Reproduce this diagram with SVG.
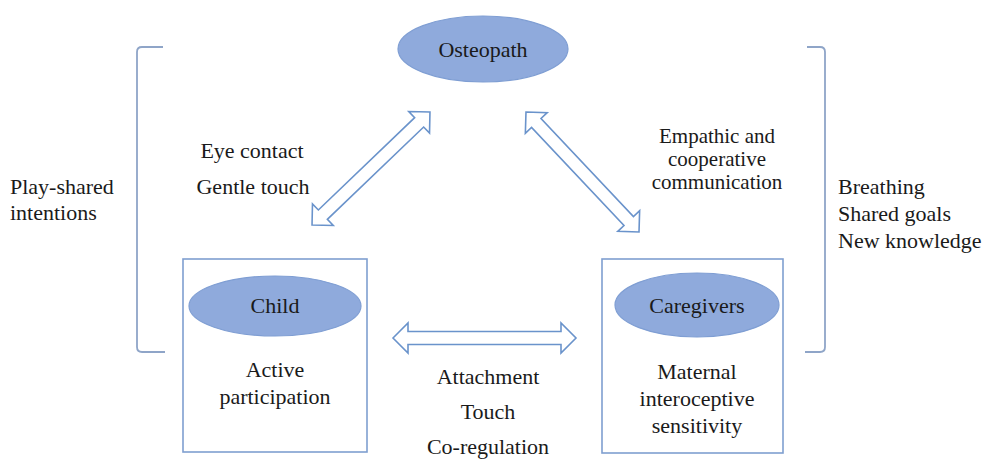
<svg xmlns="http://www.w3.org/2000/svg" width="985" height="461" viewBox="0 0 985 461">
<style>
text{font-size:22px;fill:#1a1a1a}
.c{text-anchor:middle}
.sm{font-size:21px}
.ell{fill:#8FAADC;stroke:#7F9ED3;stroke-width:1.2}
.box{fill:none;stroke:#7F9FD0;stroke-width:1.6}
.arr{fill:#fff;stroke:#6A93CB;stroke-width:1.6;stroke-linejoin:miter}
.br{fill:none;stroke:#8FA5C8;stroke-width:1.8}
</style>
<rect width="985" height="461" fill="#fff"/>
<g id="brackets">
<path class="br" d="M163,47 L142,47 Q137,47 137,52 L137,347 Q137,352 142,352 L165,352"/>
<path class="br" d="M807,47 L820,47 Q825,47 825,52 L825,347 Q825,352 820,352 L805,352"/>
</g>
<g id="connectors">
<path class="arr" transform="translate(371,168.5) rotate(-43.8)" d="M-81.7,0 L-66.7,-15 L-66.7,-6.5 L66.7,-6.5 L66.7,-15 L81.7,0 L66.7,15 L66.7,6.5 L-66.7,6.5 L-66.7,15 Z"/>
<path class="arr" transform="translate(582.5,172) rotate(46.7)" d="M-82.4,0 L-67.4,-15 L-67.4,-6.5 L67.4,-6.5 L67.4,-15 L82.4,0 L67.4,15 L67.4,6.5 L-67.4,6.5 L-67.4,15 Z"/>
<path class="arr" transform="translate(484.5,338)" d="M-91.5,0 L-76.5,-15 L-76.5,-6.5 L76.5,-6.5 L76.5,-15 L91.5,0 L76.5,15 L76.5,6.5 L-76.5,6.5 L-76.5,15 Z"/>
</g>
<g font-family="'Liberation Serif', 'DejaVu Serif', serif">
<g id="osteopath">
<ellipse class="ell" cx="483" cy="49" rx="85" ry="33"/>
<text class="c" x="483" y="57">Osteopath</text>
</g>
<g id="child">
<rect class="box" x="183" y="259" width="184" height="193"/>
<ellipse class="ell" cx="275" cy="306" rx="86" ry="30"/>
<text class="c" x="275" y="313">Child</text>
<text class="c" x="275" y="377">Active</text>
<text class="c" x="275" y="404">participation</text>
</g>
<g id="caregivers">
<rect class="box" x="602" y="259" width="181" height="194"/>
<ellipse class="ell" cx="697" cy="305" rx="82" ry="32"/>
<text class="c" x="697" y="313">Caregivers</text>
<text class="c" x="697" y="379">Maternal</text>
<text class="c" x="697" y="406">interoceptive</text>
<text class="c" x="697" y="433">sensitivity</text>
</g>
<g id="labels">
<text class="c" x="252" y="158">Eye contact</text>
<text class="c" x="253" y="194">Gentle touch</text>
<text x="10" y="194">Play-shared</text>
<text x="10" y="220">intentions</text>
<text class="c sm" x="717" y="143">Empathic and</text>
<text class="c sm" x="717" y="166">cooperative</text>
<text class="c sm" x="717" y="189">communication</text>
<text x="838" y="194">Breathing</text>
<text x="838" y="221">Shared goals</text>
<text x="838" y="248">New knowledge</text>
<text class="c" x="488" y="384">Attachment</text>
<text class="c" x="488" y="419">Touch</text>
<text class="c" x="488" y="454">Co-regulation</text>
</g>
</g>
</svg>
